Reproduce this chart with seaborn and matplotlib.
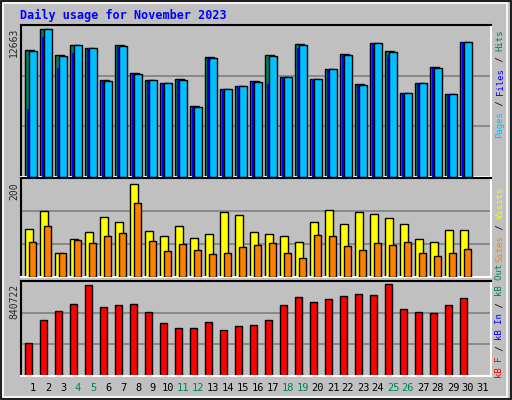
import numpy as np
import matplotlib
matplotlib.use("Agg")
import matplotlib.pyplot as plt
import seaborn as sns

# ── data ───────────────────────────────────────────────────────────────────
days = list(range(1, 32))
hits = [10866, 12663, 10438, 11294, 11037, 8299, 11294, 8898, 8299, 8043,
        8385, 6075, 10267, 7529, 7786, 8214, 10438, 8556, 11379, 8385,
        9240, 10524, 7957, 11465, 10781, 7187, 8043, 9412, 7101, 11550]
files = [5818, 11978, 9326, 10609, 10950, 8214, 11123, 8813, 8214, 8043,
         8300, 5990, 10182, 7529, 7786, 8130, 7957, 8556, 11037, 8385,
         9240, 10438, 7871, 11465, 10439, 7187, 8043, 9326, 7101, 11550]
pages = [10781, 12663, 10352, 11294, 11037, 8214, 11208, 8813, 8299, 8043,
         8300, 5990, 10182, 7529, 7786, 8130, 10352, 8556, 11294, 8385,
         9240, 10438, 7871, 11465, 10696, 7187, 8043, 9326, 7101, 11550]
visits = [103, 142, 52, 82, 97, 129, 118, 200, 99, 88, 110, 84, 92, 140, 133,
          97, 92, 88, 75, 118, 144, 114, 140, 135, 127, 114, 82, 75, 101, 101]
sites = [75, 110, 52, 80, 73, 88, 95, 159, 77, 56, 71, 58, 49, 52, 65,
         69, 73, 52, 41, 90, 88, 67, 58, 73, 69, 75, 52, 45, 52, 60]
kbytes = [301561, 511736, 593983, 657951, 831568, 630536, 648811, 657951,
          584845, 484317, 438627, 438627, 493455, 420351, 456903, 466041,
          511736, 648811, 721913, 676226, 703639, 731051, 749326, 740189,
          840722, 612260, 584845, 575707, 648811, 712775]
weekends = [4, 5, 11, 12, 18, 19, 25, 26]

GRAY = "#c0c0c0"
C_HITS, C_FILES, C_PAGES = "#00805c", "#0000ff", "#00c0ff"
C_VISITS, C_SITES, C_KB = "#ffff00", "#ff8000", "#ff0000"
MONO = "DejaVu Sans Mono"

sns.set_style("white")
W, H = 512, 400
fig = plt.figure(figsize=(W / 100, H / 100), dpi=100, facecolor=GRAY)

# outer frame
fig.add_artist(plt.Rectangle((0.002, 0.002), 0.996, 0.996, fill=False,
                             edgecolor="black", lw=1.2, transform=fig.transFigure))
fig.add_artist(plt.Rectangle((0.006, 0.008), 0.985, 0.985, fill=False,
                             edgecolor="white", lw=1.2, transform=fig.transFigure))


def px_axes(y0, y1, x0=21, x1=491):
    ax = fig.add_axes([x0 / W, 1 - y1 / H, (x1 - x0) / W, (y1 - y0) / H])
    ax.set_facecolor(GRAY)
    ax.set_xlim(0.2, 31.53)
    ax.set_xticks([])
    ax.set_yticks([])
    for s in ("top", "left"):
        ax.spines[s].set_color("black")
    for s in ("bottom", "right"):
        ax.spines[s].set_color("white")
    for s in ax.spines.values():
        s.set_linewidth(1.5)
    return ax


def grid(ax, top):
    for f in (1 / 3, 2 / 3):
        ax.axhline(top * f, color="#808080", lw=1.2, zorder=0)


x = np.array(days[:len(hits)])
kw = dict(align="edge", edgecolor="black", linewidth=1)

# ── top: hits / files / pages ──
ax1 = px_axes(25, 177)
top1 = 12663 * 152 / 148
ax1.set_ylim(0, top1)
grid(ax1, top1)
ax1.bar(x - 0.53, hits, width=0.62, color=C_HITS, zorder=2, **kw)
ax1.bar(x - 0.4, files, width=0.5, color=C_FILES, zorder=3, linewidth=0, align="edge")
ax1.bar(x - 0.25, pages, width=0.5, color=C_PAGES, zorder=4, **kw)

# ── middle: visits / sites ──
ax2 = px_axes(178, 277)
top2 = 200 * 99 / 93
ax2.set_ylim(0, top2)
grid(ax2, top2)
ax2.bar(x - 0.53, visits, width=0.52, color=C_VISITS, zorder=2, **kw)
ax2.bar(x - 0.27, sites, width=0.48, color=C_SITES, zorder=3, **kw)

# ── bottom: kB ──
ax3 = px_axes(281, 376)
top3 = 840722 * 95 / 92
ax3.set_ylim(0, top3)
grid(ax3, top3)
ax3.bar(x - 0.53, kbytes, width=0.48, color=C_KB, zorder=2, **kw)

# ── texts ──
fig.text(20 / W, 1 - 15 / H, "Daily usage for November 2023", color="#0000ff",
         family=MONO, fontweight="bold", fontsize=8.5, va="center")

for d in days:
    xp = 33 + (d - 1) * 15.0
    fig.text(xp / W, 1 - 388 / H, str(d), family=MONO, fontsize=7.5,
             ha="center", va="center",
             color=C_HITS if d in weekends else "black")

for label, ytop in (("12663", 28), ("200", 182), ("840722", 284)):
    fig.text(14 / W, 1 - ytop / H, label, family=MONO, fontsize=7,
             rotation=90, ha="center", va="top")

FS = 6.5
STEP = 0.602 * FS * 100 / 72


def side_label(parts, ybottom, xp=500):
    y = ybottom
    for s, c in parts:
        fig.text(xp / W, 1 - y / H, s, color=c, family=MONO, fontsize=FS,
                 rotation=90, rotation_mode="anchor", ha="left", va="center")
        y -= STEP * len(s)


side_label([("Pages", C_PAGES), (" / ", "black"), ("Files", C_FILES),
            (" / ", "black"), ("Hits", C_HITS)], 138)
side_label([("Sites", C_SITES), (" / ", "black"), ("Visits", C_VISITS)], 262)
side_label([("kB F", C_KB), (" / ", "black"), ("kB In", C_FILES),
            (" / ", "black"), ("kB Out", C_HITS)], 378)

fig.savefig("out.png", dpi=100, facecolor=GRAY)
